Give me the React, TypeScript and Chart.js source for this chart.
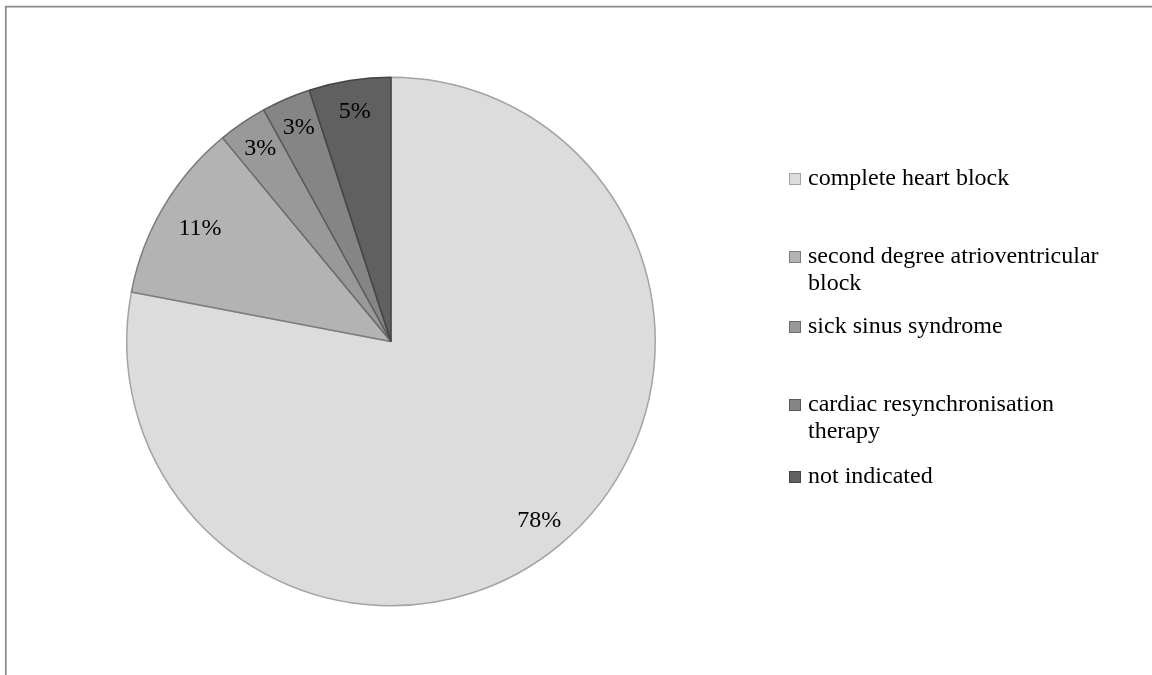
import React, { useEffect, useRef } from "react";
import { Chart, registerables } from "chart.js";

Chart.register(...registerables);

// Pacemaker indication breakdown
const categories = [
  "complete heart block",
  "second degree atrioventricular block",
  "sick sinus syndrome",
  "cardiac resynchronisation therapy",
  "not indicated",
];
const percentages = [78, 11, 3, 3, 5];

const fillColors = ["#dcdcdc", "#b3b3b3", "#999999", "#858585", "#606060"];
const borderColors = ["#a3a3a3", "#7d7d7d", "#6a6a6a", "#5a5a5a", "#444444"];

const FONT = '"Liberation Serif", "Times New Roman", serif';
const WIDTH = 1152;
const HEIGHT = 675;

// legend layout
const LEGEND_SWATCH_X = 789;
const LEGEND_TEXT_X = 808;
const LEGEND_MAX_TEXT = 310;
const LEGEND_ENTRY_Y = [179, 257, 327, 405, 477];
const LEGEND_LINE_H = 27;

const frame = {
  id: "frame",
  beforeDraw(chart: any) {
    const ctx = chart.ctx as CanvasRenderingContext2D;
    ctx.save();
    ctx.strokeStyle = "#8c8c8c";
    ctx.lineWidth = 1.75;
    ctx.beginPath();
    ctx.moveTo(5.8, HEIGHT);
    ctx.lineTo(5.8, 6.5);
    ctx.lineTo(WIDTH, 6.5);
    ctx.stroke();
    ctx.restore();
  },
};

const sliceLabels = {
  id: "sliceLabels",
  afterDatasetsDraw(chart: any) {
    const ctx = chart.ctx as CanvasRenderingContext2D;
    const meta = chart.getDatasetMeta(0);
    ctx.save();
    ctx.font = `24px ${FONT}`;
    ctx.fillStyle = "#000";
    ctx.textAlign = "center";
    ctx.textBaseline = "middle";
    meta.data.forEach((arc: any, i: number) => {
      const { x, y, startAngle, endAngle, outerRadius } = arc.getProps(
        ["x", "y", "startAngle", "endAngle", "outerRadius"],
        true
      );
      const mid = (startAngle + endAngle) / 2;
      const share = percentages[i] / 100;
      // labels sit near the rim; mid-sized slices a little deeper
      const frac = share >= 0.1 && share < 0.5 ? 0.84 : 0.88;
      ctx.fillText(
        `${percentages[i]}%`,
        x + Math.cos(mid) * outerRadius * frac,
        y + Math.sin(mid) * outerRadius * frac
      );
    });
    ctx.restore();
  },
};

function wrapText(ctx: CanvasRenderingContext2D, text: string, maxW: number) {
  const words = text.split(" ");
  const lines: string[] = [];
  let line = "";
  for (const w of words) {
    const test = line ? line + " " + w : w;
    if (line && ctx.measureText(test).width > maxW) {
      lines.push(line);
      line = w;
    } else {
      line = test;
    }
  }
  if (line) lines.push(line);
  return lines;
}

const sideLegend = {
  id: "sideLegend",
  afterDraw(chart: any) {
    const ctx = chart.ctx as CanvasRenderingContext2D;
    ctx.save();
    ctx.font = `24px ${FONT}`;
    ctx.textAlign = "left";
    ctx.textBaseline = "middle";
    categories.forEach((label, i) => {
      const y0 = LEGEND_ENTRY_Y[i];
      ctx.fillStyle = fillColors[i];
      ctx.strokeStyle = borderColors[i];
      ctx.lineWidth = 1;
      ctx.fillRect(LEGEND_SWATCH_X, y0 - 6, 12, 12);
      ctx.strokeRect(LEGEND_SWATCH_X + 0.5, y0 - 5.5, 11, 11);
      ctx.fillStyle = "#000";
      wrapText(ctx, label, LEGEND_MAX_TEXT).forEach((ln, k) => {
        ctx.fillText(ln, LEGEND_TEXT_X, y0 + k * LEGEND_LINE_H);
      });
    });
    ctx.restore();
  },
};

export default function App() {
  const canvasRef = useRef<HTMLCanvasElement | null>(null);

  useEffect(() => {
    if (!canvasRef.current) return;
    const chart = new Chart(canvasRef.current, {
      type: "pie",
      data: {
        labels: categories,
        datasets: [
          {
            data: percentages,
            backgroundColor: fillColors,
            borderColor: borderColors,
            borderWidth: 1.5,
          },
        ],
      },
      options: {
        responsive: false,
        animation: false,
        devicePixelRatio: 1,
        layout: { padding: { left: 126, right: 496, top: 76, bottom: 68 } },
        plugins: {
          legend: { display: false },
          tooltip: { enabled: false },
        },
      },
      plugins: [frame, sliceLabels, sideLegend],
    });
    return () => chart.destroy();
  }, []);

  return (
    <div style={{ position: "absolute", left: 0, top: 0, width: WIDTH, height: HEIGHT, background: "#fff" }}>
      <canvas ref={canvasRef} width={WIDTH} height={HEIGHT} />
    </div>
  );
}
